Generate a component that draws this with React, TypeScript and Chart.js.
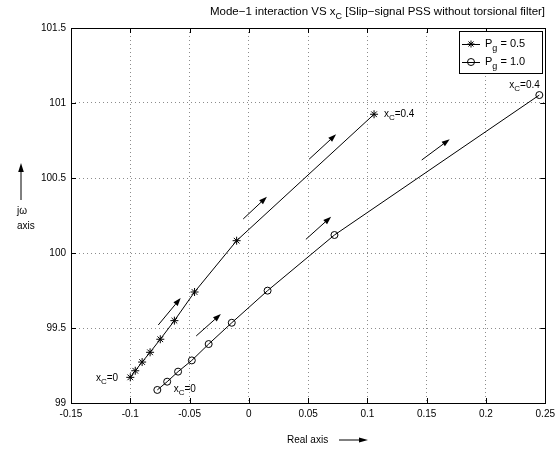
import React, { useEffect, useRef } from "react";
import { Chart, registerables } from "chart.js";

Chart.register(...registerables);

// ---- data ----
const starX = [-0.1, -0.0958, -0.09, -0.0833, -0.0747, -0.0628, -0.0458, -0.0103, 0.1056];
const starY = [99.171, 99.215, 99.273, 99.338, 99.425, 99.549, 99.74, 100.082, 100.925];

const circleX = [-0.0772, -0.0689, -0.0597, -0.0481, -0.0339, -0.0144, 0.0158, 0.0722, 0.245];
const circleY = [99.087, 99.142, 99.209, 99.284, 99.393, 99.535, 99.749, 100.12, 101.053];

const arrowX0 = [-0.0764, -0.00475, 0.0508, -0.0444, 0.0481, 0.1458];
const arrowY0 = [99.52, 100.227, 100.625, 99.447, 100.091, 100.62];
const arrowX1 = [-0.0575, 0.01525, 0.0736, -0.0236, 0.0694, 0.1694];
const arrowY1 = [99.7, 100.375, 100.791, 99.593, 100.242, 100.758];

const noteText = ["=0", "=0", "=0.4", "=0.4"];
const noteX = [-0.129, -0.0634, 0.1139, 0.2197];
const noteY = [99.167, 99.093, 100.927, 101.12];

const xTicks = [-0.15, -0.1, -0.05, 0, 0.05, 0.1, 0.15, 0.2, 0.25];
const yTicks = [99, 99.5, 100, 100.5, 101, 101.5];

const legendValues = ["0.5", "1.0"];

const FONT = "'Liberation Sans', Arial, Helvetica, sans-serif";

function fmt(v: number): string {
  const r = Math.round(v * 1000) / 1000;
  return String(r);
}

function drawSub(ctx: CanvasRenderingContext2D, x: number, y: number, base: string, sub: string, rest: string, size: number) {
  ctx.textAlign = "left";
  ctx.textBaseline = "middle";
  ctx.font = `${size}px ${FONT}`;
  ctx.fillText(base, x, y);
  let cx = x + ctx.measureText(base).width;
  ctx.font = `${Math.round(size * 0.8)}px ${FONT}`;
  ctx.fillText(sub, cx, y + size * 0.38);
  cx += ctx.measureText(sub).width;
  ctx.font = `${size}px ${FONT}`;
  ctx.fillText(rest, cx, y);
  return cx + ctx.measureText(rest).width;
}

function drawArrow(ctx: CanvasRenderingContext2D, x0: number, y0: number, x1: number, y1: number, head = 8, half = 2.8) {
  const ang = Math.atan2(y1 - y0, x1 - x0);
  const bx = x1 - head * Math.cos(ang);
  const by = y1 - head * Math.sin(ang);
  ctx.beginPath();
  ctx.moveTo(x0, y0);
  ctx.lineTo(bx, by);
  ctx.stroke();
  ctx.beginPath();
  ctx.moveTo(x1, y1);
  ctx.lineTo(bx + half * Math.sin(ang), by - half * Math.cos(ang));
  ctx.lineTo(bx - half * Math.sin(ang), by + half * Math.cos(ang));
  ctx.closePath();
  ctx.fill();
}

const overlay = {
  id: "overlay",
  afterDraw(chart: any) {
    const ctx: CanvasRenderingContext2D = chart.ctx;
    const { left, right, top, bottom } = chart.chartArea;
    const xs = chart.scales.x;
    const ys = chart.scales.y;
    ctx.save();
    ctx.strokeStyle = "#000";
    ctx.fillStyle = "#000";
    ctx.lineWidth = 1;

    // frame
    ctx.strokeRect(Math.round(left) + 0.5, Math.round(top) + 0.5, Math.round(right - left), Math.round(bottom - top));

    // inward ticks
    const tl = 5;
    ctx.beginPath();
    xTicks.forEach((v) => {
      const px = Math.round(xs.getPixelForValue(v)) + 0.5;
      ctx.moveTo(px, bottom);
      ctx.lineTo(px, bottom - tl);
      ctx.moveTo(px, top);
      ctx.lineTo(px, top + tl);
    });
    yTicks.forEach((v) => {
      const py = Math.round(ys.getPixelForValue(v)) + 0.5;
      ctx.moveTo(left, py);
      ctx.lineTo(left + tl, py);
      ctx.moveTo(right, py);
      ctx.lineTo(right - tl, py);
    });
    ctx.stroke();

    // arrows
    for (let i = 0; i < arrowX0.length; i++) {
      drawArrow(
        ctx,
        xs.getPixelForValue(arrowX0[i]),
        ys.getPixelForValue(arrowY0[i]),
        xs.getPixelForValue(arrowX1[i]),
        ys.getPixelForValue(arrowY1[i])
      );
    }

    // annotations
    for (let i = 0; i < noteText.length; i++) {
      drawSub(ctx, xs.getPixelForValue(noteX[i]), ys.getPixelForValue(noteY[i]), "x", "C", noteText[i], 10);
    }

    // title
    drawSub(ctx, 210, 12, "Mode\u22121 interaction VS x", "C", " [Slip\u2212signal PSS without torsional filter]", 11.5);

    // y label
    ctx.font = `10px ${FONT}`;
    ctx.textAlign = "left";
    ctx.textBaseline = "middle";
    ctx.fillText("j\u03c9", 17, 211);
    ctx.fillText("axis", 17, 226);
    drawArrow(ctx, 21, 200, 21, 163, 9, 2.8);

    // x label
    ctx.fillText("Real axis", 287, 440);
    drawArrow(ctx, 339, 440, 368, 440, 9, 2.6);

    // legend
    const lx = 459, ly = 31, lw = 83, lh = 42;
    ctx.fillStyle = "#fff";
    ctx.fillRect(lx, ly, lw, lh);
    ctx.strokeStyle = "#000";
    ctx.strokeRect(lx + 0.5, ly + 0.5, lw, lh);
    ctx.fillStyle = "#000";
    const rows = [44, 62];
    rows.forEach((ry, i) => {
      ctx.beginPath();
      ctx.moveTo(462, ry + 0.5);
      ctx.lineTo(480, ry + 0.5);
      ctx.stroke();
      const mx = 471;
      if (i === 0) {
        const r = 3.5;
        ctx.beginPath();
        ctx.moveTo(mx - r, ry);
        ctx.lineTo(mx + r, ry);
        ctx.moveTo(mx, ry - r);
        ctx.lineTo(mx, ry + r);
        const d = r * 0.72;
        ctx.moveTo(mx - d, ry - d);
        ctx.lineTo(mx + d, ry + d);
        ctx.moveTo(mx - d, ry + d);
        ctx.lineTo(mx + d, ry - d);
        ctx.stroke();
      } else {
        ctx.beginPath();
        ctx.arc(mx, ry, 3.5, 0, Math.PI * 2);
        ctx.stroke();
      }
      drawSub(ctx, 485, ry, "P", "g", " = " + legendValues[i], 11);
    });

    ctx.restore();
  },
};

export default function App() {
  const ref = useRef<HTMLCanvasElement | null>(null);
  useEffect(() => {
    if (!ref.current) return;
    const chart = new Chart(ref.current, {
      type: "scatter",
      data: {
        datasets: [
          {
            label: "Pg = 0.5",
            data: starX.map((x, i) => ({ x, y: starY[i] })),
            showLine: true,
            borderColor: "#000",
            borderWidth: 1,
            pointStyle: "star",
            pointRadius: 4,
            pointBorderColor: "#000",
            pointBackgroundColor: "#000",
            pointBorderWidth: 1,
          },
          {
            label: "Pg = 1.0",
            data: circleX.map((x, i) => ({ x, y: circleY[i] })),
            showLine: true,
            borderColor: "#000",
            borderWidth: 1,
            pointStyle: "circle",
            pointRadius: 3.5,
            pointBorderColor: "#000",
            pointBackgroundColor: "rgba(0,0,0,0)",
            pointBorderWidth: 1,
          },
        ],
      },
      options: {
        responsive: false,
        animation: false,
        events: [],
        layout: { padding: { left: 0, right: 13, top: 28, bottom: 0 } },
        plugins: {
          legend: { display: false },
          title: { display: false },
          tooltip: { enabled: false },
        },
        scales: {
          x: {
            type: "linear",
            min: -0.15,
            max: 0.25,
            afterBuildTicks: (scale: any) => {
              scale.ticks = xTicks.map((v) => ({ value: v }));
            },
            afterFit: (scale: any) => {
              scale.height = 47;
            },
            ticks: {
              autoSkip: false,
              maxRotation: 0,
              padding: 5,
              color: "#000",
              font: { family: FONT, size: 10 },
              callback: (v: any) => fmt(Number(v)),
            },
            grid: { color: "#8c8c8c", lineWidth: 1, drawTicks: false },
            border: { display: false, dash: [1, 3] },
          },
          y: {
            type: "linear",
            min: 99,
            max: 101.5,
            afterBuildTicks: (scale: any) => {
              scale.ticks = yTicks.map((v) => ({ value: v }));
            },
            afterFit: (scale: any) => {
              scale.width = 71;
            },
            ticks: {
              autoSkip: false,
              padding: 5,
              color: "#000",
              font: { family: FONT, size: 10 },
              callback: (v: any) => fmt(Number(v)),
            },
            grid: { color: "#8c8c8c", lineWidth: 1, drawTicks: false },
            border: { display: false, dash: [1, 3] },
          },
        },
      },
      plugins: [overlay],
    });
    return () => chart.destroy();
  }, []);
  return (
    <div style={{ position: "absolute", left: 0, top: 0, width: 560, height: 450, background: "#fff" }}>
      <canvas ref={ref} width={560} height={450} style={{ display: "block" }} />
    </div>
  );
}
